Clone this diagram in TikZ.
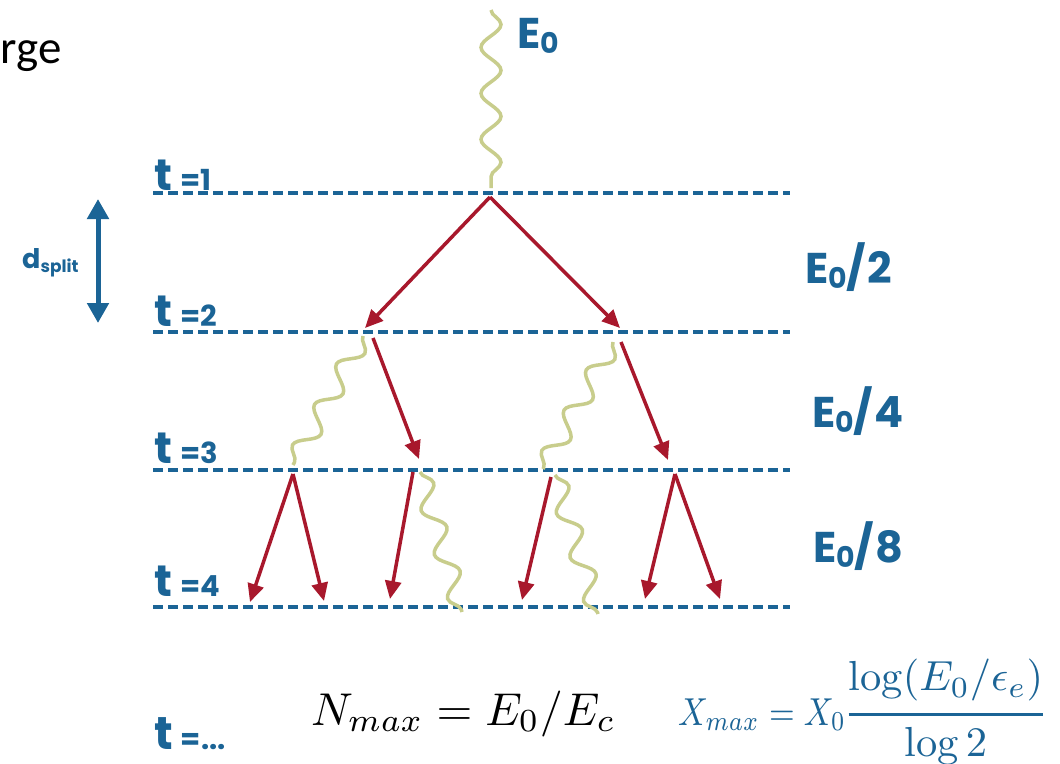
\documentclass[tikz,border=0pt]{standalone}
\usepackage{graphicx}
\usepackage{fontspec}
\usetikzlibrary{arrows.meta,decorations.pathmorphing}
\newfontfamily\labfont{Poppins}
\newfontfamily\calfont{Carlito}
\definecolor{myblue}{RGB}{27,100,150}
\definecolor{myred}{RGB}{168,24,44}
\definecolor{mygreen}{RGB}{200,205,140}
\newcommand\Ez{E\raisebox{-0.13em}{\scalebox{0.66}{0}}}
\newcommand\tlab[1]{{\fontsize{44}{48}\selectfont t}\hspace{8pt}{\fontsize{29}{32}\selectfont #1}}
\tikzset{
  lvl/.style={draw=myblue, line width=4pt, dash pattern=on 10pt off 5pt},
  arr/.style={draw=myred, line width=3.5pt, -{Triangle[length=18pt,width=16pt]}},
  photon/.style={draw=mygreen, line width=3.5pt, decorate, decoration={snake, segment length=46pt, amplitude=10pt}},
  lab/.style={text=myblue, font=\labfont\bfseries, inner sep=0pt, anchor=base west},
  elab/.style={lab, font=\labfont\bfseries\fontsize{43}{46}\selectfont},
}
\begin{document}
\begin{tikzpicture}[x=1pt,y=-1pt]
\fill[white] (0,0) rectangle (1060,763);
\useasboundingbox (0,0) rectangle (1060,763);
% cut-off slide text
\node[anchor=base east, inner sep=0pt, font=\calfont\fontsize{47}{52}\selectfont] (rge) at (62,63) {rge};
% level lines
\foreach \n/\y in {1/193,2/332,3/470,4/607}{
  \coordinate (l\n a) at (153,\y);
  \coordinate (l\n b) at (790,\y);
  \draw[lvl] (l\n a) -- (l\n b);
}
% time labels
\node[lab] (t1) at (154,190) {\tlab{=1}};
\node[lab] (t2) at (154,326) {\tlab{=2}};
\node[lab] (t3) at (154,463) {\tlab{=3}};
\node[lab] (t4) at (154,596) {\tlab{=4}};
\node[lab] (tn) at (154,749) {{\fontsize{46}{50}\selectfont t}\hspace{8pt}{\fontsize{29}{32}\selectfont =...}};
% d_split
\coordinate (dtop) at (98,199);
\coordinate (dbot) at (98,323);
\draw[draw=myblue, line width=5pt, {Triangle[length=20pt,width=21pt]}-{Triangle[length=20pt,width=21pt]}] (dtop) -- (dbot);
\node[lab, font=\labfont\bfseries\fontsize{27}{30}\selectfont] (dsplit) at (22,268) {d\raisebox{-0.15em}{\fontsize{17}{19}\selectfont split}};
% energy labels
\node[lab, font=\labfont\bfseries\fontsize{43}{46}\selectfont] (e0) at (517,48) {\Ez};
\node[elab] (e2) at (805,283) {\Ez/\kern1pt2};
\node[elab] (e4) at (812,427) {\Ez/\kern1pt4};
\node[elab] (e8) at (813,562) {\Ez/\kern1pt8};
% primary photon
\coordinate (p0s) at (491,10);
\coordinate (n1) at (490,197);
\coordinate (p0e) at (491,188);
\draw[photon] (p0s) -- (p0e);
% level 1 -> 2
\coordinate (n2l) at (365,328);
\coordinate (n2r) at (620,328);
\draw[arr] (n1) -- (n2l);
\draw[arr] (n1) -- (n2r);
% level 2 -> 3
\coordinate (p1s) at (363,336);
\coordinate (p1e) at (293,465);
\coordinate (a1s) at (373,338);
\coordinate (a1e) at (419,459);
\coordinate (p2s) at (613,342);
\coordinate (p2e) at (543,469);
\coordinate (a2s) at (621,342);
\coordinate (a2e) at (668,460);
\draw[photon] (p1s) -- (p1e);
\draw[arr] (a1s) -- (a1e);
\draw[photon] (p2s) -- (p2e);
\draw[arr] (a2s) -- (a2e);
% level 3 -> 4
\coordinate (m1) at (293,474);
\coordinate (m2) at (413,472);
\coordinate (m3) at (551,477);
\coordinate (m4) at (675,474);
\coordinate (q1) at (250,602);
\coordinate (q2) at (324,601);
\coordinate (q3) at (390,599);
\coordinate (q4) at (522,600);
\coordinate (q5) at (645,599);
\coordinate (q6) at (720,599);
\coordinate (p3s) at (420,472);
\coordinate (p3e) at (462,612);
\coordinate (p4s) at (555,475);
\coordinate (p4e) at (598,614);
\draw[arr] (m1) -- (q1);
\draw[arr] (m1) -- (q2);
\draw[arr] (m2) -- (q3);
\draw[photon] (p3s) -- (p3e);
\draw[arr] (m3) -- (q4);
\draw[photon] (p4s) -- (p4e);
\draw[arr] (m4) -- (q5);
\draw[arr] (m4) -- (q6);
% formulas
\node[anchor=base west, inner sep=0pt] (nmax) at (311,725) {\scalebox{4.6}{$N_{max} = E_0/E_c$}};
\node[anchor=base west, inner sep=0pt, text=myblue] (xmax) at (678,725) {\scalebox{3.3}[3.9]{$X_{max} = X_0$}};
\node[anchor=base west, inner sep=0pt, text=myblue] (xfrac) at ([xshift=-3pt]xmax.base east) {\scalebox{4.25}[4.2]{$\displaystyle{\log(E_0/\epsilon_e) \above 0.9pt \log 2}$}};
\end{tikzpicture}
\end{document}
